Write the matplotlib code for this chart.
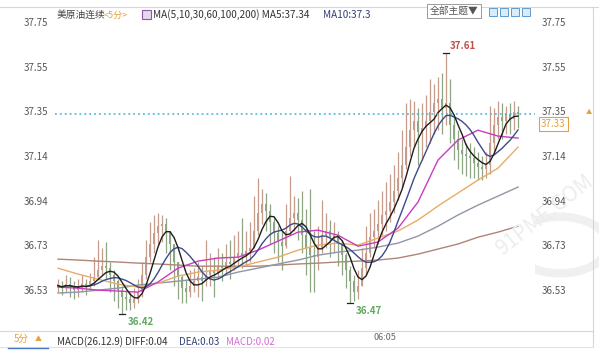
import matplotlib
matplotlib.use("Agg")
import matplotlib.pyplot as plt
import numpy as np
import pandas as pd
from matplotlib.patches import Rectangle, Circle
from matplotlib.lines import Line2D

plt.rcParams["font.family"] = ["Noto Sans CJK SC", "DejaVu Sans"]

W, H = 599, 353

# 5-minute candles (open = previous close)
closes = [
    36.55, 36.54, 36.56, 36.55, 36.53, 36.54, 36.56, 36.55, 36.57, 36.59,
    36.62, 36.64, 36.63, 36.60, 36.57, 36.53, 36.50, 36.49, 36.47, 36.49,
    36.52, 36.60, 36.68, 36.74, 36.79, 36.82, 36.83, 36.80, 36.74, 36.66,
    36.59, 36.54, 36.52, 36.55, 36.57, 36.59, 36.57, 36.60, 36.62, 36.61,
    36.64, 36.63, 36.66, 36.65, 36.68, 36.70, 36.69, 36.71, 36.72, 36.80,
    36.88, 36.92, 36.89, 36.84, 36.79, 36.75, 36.73, 36.80, 36.86, 36.88,
    36.85, 36.78, 36.72, 36.69, 36.68, 36.72, 36.78, 36.80, 36.77, 36.78,
    36.74, 36.69, 36.62, 36.57, 36.52, 36.55, 36.63, 36.70, 36.77, 36.80,
    36.83, 36.87, 36.89, 36.93, 36.98, 37.04, 37.10, 37.18, 37.26, 37.30,
    37.25, 37.27, 37.30, 37.34, 37.38, 37.40, 37.36, 37.38, 37.28, 37.22,
    37.17, 37.15, 37.14, 37.13, 37.11, 37.09, 37.08, 37.10, 37.20, 37.28,
    37.32, 37.30, 37.33, 37.31, 37.34, 37.33,
]
highs = [
    36.58, 36.57, 36.60, 36.59, 36.57, 36.58, 36.60, 36.58, 36.61, 36.68,
    36.76, 36.72, 36.75, 36.66, 36.62, 36.58, 36.55, 36.53, 36.52, 36.54,
    36.58, 36.66, 36.76, 36.84, 36.87, 36.88, 36.87, 36.86, 36.80, 36.74,
    36.66, 36.60, 36.58, 36.62, 36.63, 36.66, 36.64, 36.76, 36.70, 36.68,
    36.72, 36.70, 36.74, 36.76, 36.78, 36.80, 36.86, 36.80, 36.84, 36.96,
    37.04, 36.99, 36.97, 36.92, 36.86, 36.82, 36.80, 36.92, 37.05, 36.96,
    36.95, 36.98, 36.90, 36.99, 36.80, 36.82, 36.94, 36.88, 36.85, 36.84,
    36.80, 36.76, 36.70, 36.64, 36.60, 36.62, 36.72, 36.82, 36.88, 36.90,
    36.94, 36.98, 37.02, 37.06, 37.10, 37.16, 37.26, 37.38, 37.40, 37.39,
    37.36, 37.38, 37.42, 37.49, 37.47, 37.50, 37.52, 37.61, 37.49, 37.32,
    37.26, 37.22, 37.20, 37.20, 37.18, 37.16, 37.14, 37.16, 37.37, 37.36,
    37.39, 37.38, 37.37, 37.38, 37.39, 37.37,
]
lows = [
    36.52, 36.51, 36.52, 36.50, 36.49, 36.50, 36.52, 36.51, 36.53, 36.55,
    36.58, 36.60, 36.58, 36.52, 36.48, 36.45, 36.42, 36.44, 36.44, 36.45,
    36.47, 36.50, 36.58, 36.66, 36.70, 36.74, 36.75, 36.70, 36.62, 36.55,
    36.49, 36.47, 36.47, 36.50, 36.52, 36.50, 36.48, 36.55, 36.55, 36.50,
    36.58, 36.57, 36.60, 36.58, 36.62, 36.64, 36.63, 36.64, 36.66, 36.72,
    36.78, 36.83, 36.80, 36.74, 36.70, 36.66, 36.62, 36.72, 36.78, 36.80,
    36.76, 36.70, 36.60, 36.52, 36.52, 36.62, 36.70, 36.72, 36.68, 36.70,
    36.64, 36.60, 36.54, 36.47, 36.48, 36.49, 36.55, 36.60, 36.68, 36.72,
    36.74, 36.78, 36.80, 36.84, 36.88, 36.94, 37.00, 37.08, 37.14, 37.18,
    37.10, 37.12, 37.18, 37.20, 37.24, 37.26, 37.24, 37.28, 37.20, 37.12,
    37.08, 37.06, 37.05, 37.04, 37.04, 37.03, 37.03, 37.04, 37.06, 37.16,
    37.22, 37.22, 37.24, 37.24, 37.26, 37.27,
]

# slow moving averages read at every 5th candle
ma_idx = list(range(0, 116, 5))
ma30 = [36.544, 36.539, 36.530, 36.526, 36.521, 36.567, 36.630, 36.662,
        36.676, 36.680, 36.712, 36.753, 36.794, 36.803, 36.780, 36.730,
        36.749, 36.812, 36.931, 37.122, 37.213, 37.258, 37.231, 37.222]
ma60 = [36.630, 36.603, 36.580, 36.557, 36.544, 36.562, 36.594, 36.612,
        36.621, 36.635, 36.658, 36.680, 36.712, 36.735, 36.744, 36.735,
        36.767, 36.799, 36.849, 36.913, 36.972, 37.031, 37.085, 37.181]
ma100 = [36.517, 36.521, 36.530, 36.539, 36.553, 36.562, 36.571, 36.580,
         36.589, 36.612, 36.630, 36.649, 36.667, 36.689, 36.703, 36.712,
         36.726, 36.744, 36.776, 36.821, 36.872, 36.917, 36.958, 36.999]
ma200 = [36.671, 36.667, 36.662, 36.658, 36.653, 36.649, 36.644, 36.639,
         36.639, 36.639, 36.639, 36.644, 36.649, 36.653, 36.658, 36.662,
         36.667, 36.676, 36.694, 36.717, 36.740, 36.771, 36.794, 36.821]

tick_labels = ["37.75", "37.55", "37.35", "37.14", "36.94", "36.73", "36.53"]
tick_top, tick_bottom = 37.75, 36.53
last_price = 37.33
high_mark = (97, 37.61)
low_marks = [(16, 36.42), (73, 36.47)]

UP = "#c69c8c"
DOWN = "#8fa684"


def fx(px):
    return px / W


def fy(py):
    return 1 - py / H


fig = plt.figure(figsize=(W / 100, H / 100), dpi=100)
fig.patch.set_facecolor("white")
ax = fig.add_axes([fx(55), fy(322), 480 / W, 314 / H])
ax.set_facecolor("white")

c = pd.Series(closes)
o = c.shift(1).fillna(c.iloc[0])
x = np.arange(len(c))
colors = np.where(c >= o, UP, DOWN)
ax.vlines(x, lows, highs, colors=colors, lw=0.9, zorder=2)
body = (c - o).abs().clip(lower=0.006)
ax.bar(x, body, bottom=np.minimum(c, o), width=0.5, color=colors, lw=0, zorder=2)

ax.plot(ma_idx, ma200, color="#b08575", lw=1.0, zorder=3)
ax.plot(ma_idx, ma100, color="#8f96a6", lw=1.0, zorder=3)
ax.plot(ma_idx, ma60, color="#e8ac66", lw=1.0, zorder=3)
ax.plot(ma_idx, ma30, color="#c93cc0", lw=1.0, zorder=3)
ax.plot(x, c.rolling(10, min_periods=1).mean(), color="#3c4a8a", lw=1.0, zorder=4)
ax.plot(x, c.rolling(5, min_periods=1).mean(), color="#1e1e1e", lw=1.0, zorder=5)

ax.axhline(last_price, color="#3fb3d6", ls=(0, (1.2, 2)), lw=1.1, zorder=6)

# extreme markers
hx, hy = high_mark
ax.plot([hx - 0.7, hx + 0.7], [hy, hy], color="#222", lw=0.9, zorder=6)
ax.text(hx + 1.0, hy + 0.03, f"{hy:.2f}", color="#c0504d", fontsize=7,
        fontweight="bold", ha="left", va="center", zorder=7)
for lx, ly in low_marks:
    ax.plot([lx - 0.7, lx + 0.7], [ly, ly], color="#222", lw=0.9, zorder=6)
    ax.text(lx + 1.4, ly - 0.034, f"{ly:.2f}", color="#5fa860", fontsize=7,
            fontweight="bold", ha="left", va="center", zorder=7, clip_on=False)

ax.set_xlim(-0.75, 119.25)
ax.set_ylim(36.385, 37.814)
ax.set_yticks(np.linspace(tick_top, tick_bottom, len(tick_labels)))
ax.set_yticklabels(tick_labels)
ax.set_xticks([])
ax.tick_params(axis="y", length=0, labelsize=7, labelcolor="#555555",
               labelright=True, pad=5)
for s in ax.spines.values():
    s.set_visible(False)

# frame lines
fig.add_artist(Line2D([0, 1], [fy(7), fy(7)], color="#d6d6d6", lw=0.8))
fig.add_artist(Line2D([fx(593), fx(593)], [fy(7), fy(347)], color="#d6d6d6", lw=0.8))
fig.add_artist(Line2D([0, fx(593)], [fy(331), fy(331)], color="#d6d6d6", lw=0.8))
fig.add_artist(Line2D([0, fx(593)], [fy(347), fy(347)], color="#e2e2e2", lw=0.8))
fig.add_artist(Line2D([fx(8), fx(48)], [fy(348), fy(348)], color="#4a78c8", lw=1.0))

# header
fig.text(fx(57), fy(15), "美原油连续", fontsize=7, color="#444444", va="center")
fig.text(fx(104), fy(15), "<5分>", fontsize=6.5, color="#e3a040", va="center")
fig.add_artist(Rectangle((fx(142), fy(19)), 9 / W, 9 / H, transform=fig.transFigure,
                         facecolor="#e6d8ee", edgecolor="#8a5aa8", lw=0.8))
fig.text(fx(153), fy(15), "MA(5,10,30,60,100,200) MA5:37.34", fontsize=7.2,
         color="#333333", va="center")
fig.text(fx(323), fy(15), "MA10:37.3", fontsize=7.2, color="#33407a", va="center")
fig.text(fx(454), fy(11), "全部主题▼", fontsize=7, color="#555555", va="center",
         ha="center", bbox=dict(boxstyle="square,pad=0.25", fc="white", ec="#9a9a9a", lw=0.7))
for bx in [489, 500, 511, 522]:
    fig.add_artist(Rectangle((fx(bx), fy(16)), 8 / W, 8 / H, transform=fig.transFigure,
                             facecolor="#dcebf7", edgecolor="#5a9ad2", lw=0.7))

# last price box
fig.text(fx(541), fy(124), f"{last_price:.2f}", fontsize=7, color="#e3a040", va="center",
         bbox=dict(boxstyle="square,pad=0.2", fc="white", ec="#e3a040", lw=0.8))
fig.text(fx(589), fy(112), "▲", fontsize=4.5, color="#e3a040", va="center", ha="center")

# bottom strip
fig.text(fx(14), fy(339), "5分", fontsize=7, color="#e3a040", va="center")
fig.text(fx(35), fy(339), "▲", fontsize=5, color="#e3a040", va="center")
fig.text(fx(57), fy(342), "MACD(26.12.9) DIFF:0.04", fontsize=7, color="#333333", va="center")
fig.text(fx(179), fy(342), "DEA:0.03", fontsize=7, color="#33407a", va="center")
fig.text(fx(226), fy(342), "MACD:0.02", fontsize=7, color="#d070d0", va="center")
fig.text(fx(373), fy(338), "06:05", fontsize=6.5, color="#666666", va="center")

# watermark
fig.add_artist(Circle((fx(560), fy(245)), 48 / W, transform=fig.transFigure,
                      facecolor="none", edgecolor="#f0f0f0", lw=6, zorder=0))
fig.text(fx(545), fy(215), "91PME.COM", fontsize=15, color="#ededed", rotation=38,
         ha="center", va="center", zorder=0)

fig.savefig("out.png", dpi=100, facecolor="white")
